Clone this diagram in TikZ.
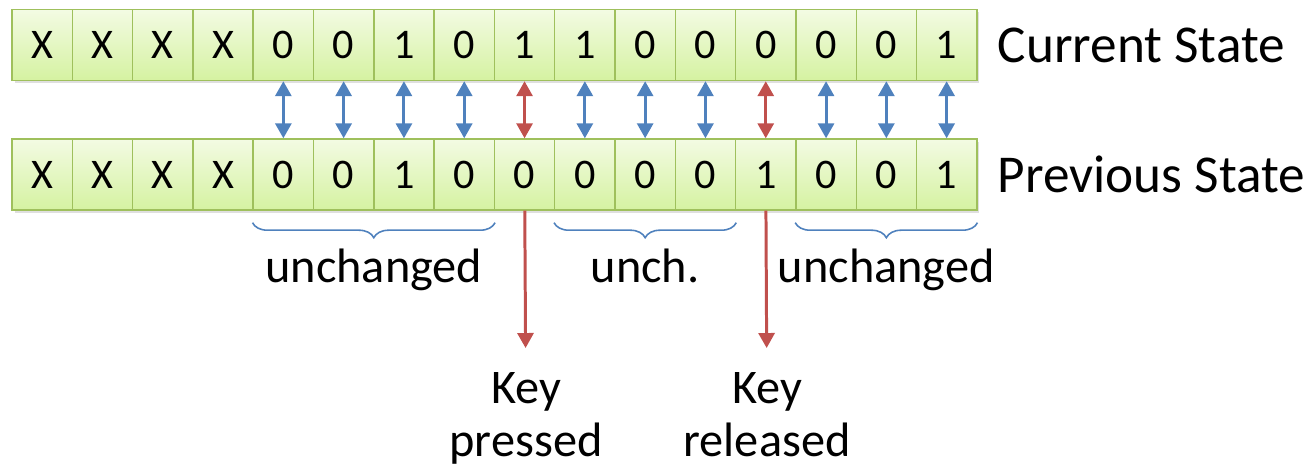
\documentclass[tikz,border=0pt]{standalone}
\usepackage{fontspec}
\setmainfont{Carlito}
\usepackage{tikz}
\usetikzlibrary{arrows.meta}
\usetikzlibrary{shadows}
\usetikzlibrary{decorations.pathreplacing, positioning}

\definecolor{cellTop}{HTML}{F3FBE3}
\definecolor{cellBottom}{HTML}{D5F2A1}
\definecolor{cellEdge}{HTML}{9FC05C}
\definecolor{linkBlue}{HTML}{4F81BD}
\definecolor{linkRed}{HTML}{C0504D}

\tikzset{
	bitcell/.style={draw=cellEdge, line width=0.8pt, top color=cellTop, bottom color=cellBottom,
		minimum width=1.206cm, minimum height=1.42cm, inner sep=0pt,
		font=\fontsize{24}{28}\selectfont,
		drop shadow={shadow xshift=0.05cm, shadow yshift=-0.05cm, opacity=0.25}},
	bitlink/.style={{Triangle[width=0.32cm,length=0.3cm]}-{Triangle[width=0.32cm,length=0.3cm]}, line width=1.7pt},
	keyarrow/.style={-{Triangle[width=0.32cm,length=0.3cm]}, line width=1.7pt, draw=linkRed},
	bitbrace/.style={decorate, decoration={brace, mirror, amplitude=0.3cm}, draw=linkBlue, line width=0.9pt},
	bracelabel/.style={anchor=base, yshift=-1.2cm, font=\fontsize{27.5}{32}\selectfont},
	keylabel/.style={anchor=north, align=center, inner sep=0pt, font=\fontsize{27.5}{30.5}\selectfont},
	statelabel/.style={inner sep=0pt, font=\fontsize{30.3}{36}\selectfont}
}

\begin{document}
\begin{tikzpicture}[x=0.02cm, y=-0.02cm]
		\useasboundingbox (0,0) rectangle (1311,468);
		% both rows of bits
		\foreach \cur/\prev [count=\i from 0] in {X/X,X/X,X/X,X/X,0/0,0/0,1/1,0/0,1/0,1/0,0/0,0/0,0/1,0/0,0/0,1/1} {
			\node[bitcell] (c\i) at (42.15+60.3*\i,45) {\cur};
			\node[bitcell] (p\i) at (42.15+60.3*\i,174.5) {\prev};
		}
		\node[statelabel, right=0.4cm of c15] (cur) {Current State};
		\node[statelabel, right=0.4cm of p15] (prev) {Previous State};
		% compare
		\foreach \i in {4,5,6,7,9,10,11,13,14,15}
			\draw[bitlink, linkBlue] (c\i) -- (p\i);
		\foreach \i in {8,12}
			\draw[bitlink, linkRed] (c\i) -- (p\i);
		% braces
		\draw[bitbrace] ([yshift=-0.24cm]p4.south west) -- node[bracelabel] {unchanged} ([yshift=-0.24cm]p7.south east);
		\draw[bitbrace] ([yshift=-0.24cm]p9.south west) -- node[bracelabel] {unch.} ([yshift=-0.24cm]p11.south east);
		\draw[bitbrace] ([yshift=-0.24cm]p13.south west) -- node[bracelabel] {unchanged} ([yshift=-0.24cm]p15.south east);
		% key events
		\node[keylabel] (k8) at (526,372) {Key\\pressed};
		\node[keylabel] (k12) at (767,372) {Key\\released};
		\draw[keyarrow, shorten >=0.48cm] (p8) -- (k8);
		\draw[keyarrow, shorten >=0.48cm] (p12) -- (k12);
\end{tikzpicture}
\end{document}
